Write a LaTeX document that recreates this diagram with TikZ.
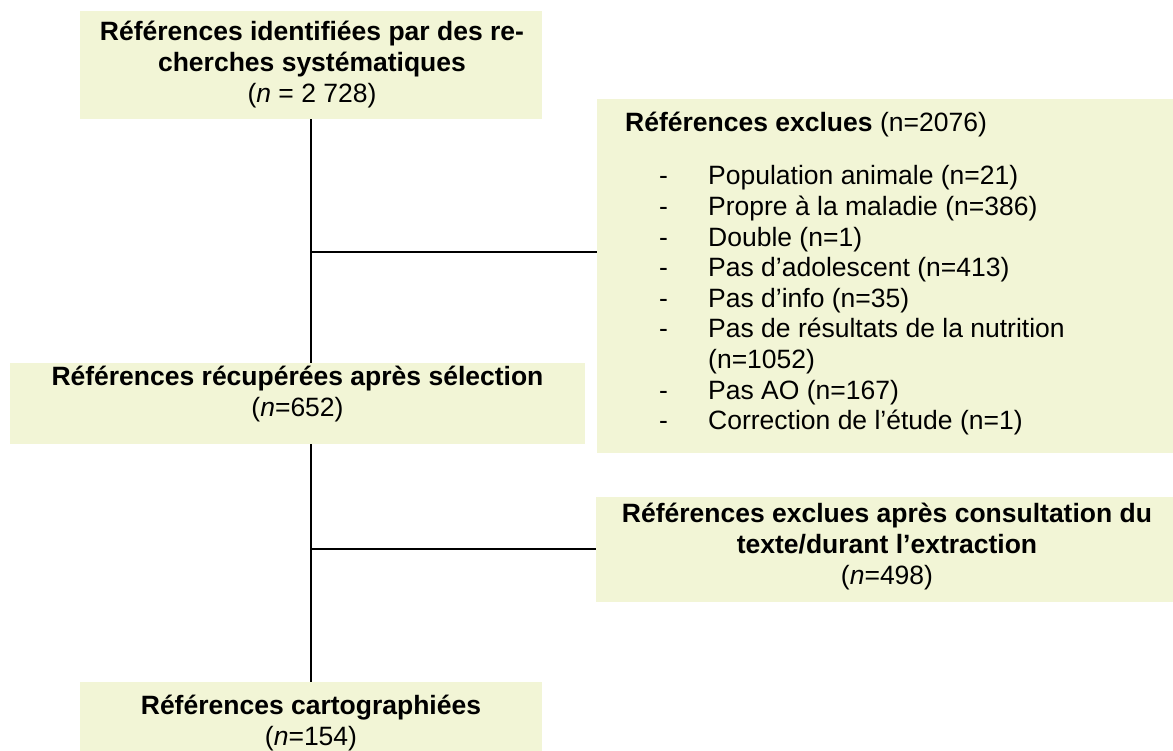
\documentclass[tikz,border=0pt]{standalone}
\usepackage{fontspec}
\setmainfont{Liberation Sans}
\definecolor{boxfill}{HTML}{F2F5D6}
\newcommand{\itm}[1]{\hspace*{34pt}\makebox[49pt][l]{-}#1}
\begin{document}
\begin{tikzpicture}[x=1pt,y=-1pt,
  box/.style={fill=boxfill, draw=none, inner sep=0pt, outer sep=0pt},
  txt/.style={font=\fontsize{26.5}{31}\selectfont, align=center, anchor=base, inner sep=0pt},
  conn/.style={line width=1.8pt, black}]
\useasboundingbox (0,0) rectangle (1173,750);
\clip (0,0) rectangle (1173,750);
% boxes
\node[box, minimum width=462, minimum height=108] (b1) at (311,65) {};
\node[box, minimum width=576, minimum height=354] (ex) at (885,276) {};
\node[box, minimum width=575, minimum height=81] (b2) at (297.5,403.5) {};
\node[box, minimum width=577, minimum height=105] (b3) at (884.5,549.5) {};
\node[box, minimum width=462, minimum height=100] (b4) at (311,732) {};
% texts (anchor base = baseline of the last line)
\node[txt] (t1) at (312,102) {\textbf{Références identifiées par des re-}\\\textbf{cherches systématiques}\\(\textit{n} = 2 728)};
\node[txt, font=\fontsize{26.5}{30.6}\selectfont, align=left, anchor=base west] (tex) at (625,429.6) {\textbf{Références exclues} (n=2076)\\[22.3pt]
\itm{Population animale (n=21)}\\
\itm{Propre à la maladie (n=386)}\\
\itm{Double (n=1)}\\
\itm{Pas d’adolescent (n=413)}\\
\itm{Pas d’info (n=35)}\\
\itm{Pas de résultats de la nutrition}\\
\hspace*{83pt}(n=1052)\\
\itm{Pas AO (n=167)}\\
\itm{Correction de l’étude (n=1)}};
\node[txt] (t2) at (297.5,416) {\textbf{Références récupérées après sélection}\\(\textit{n}=652)};
\node[txt] (t3) at (887,584) {\textbf{Références exclues après consultation du}\\\textbf{texte/durant l’extraction}\\(\textit{n}=498)};
\node[txt] (t4) at (311,745) {\textbf{Références cartographiées}\\(\textit{n}=154)};
% connectors
\coordinate (j1) at (311,252);
\coordinate (j2) at (311,549);
\draw[conn] (b1.south) -- (b1.south |- b2.north);
\draw[conn] (b1.south |- b2.south) -- (b4.north);
\draw[conn] (j1) -- (j1 -| ex.west);
\draw[conn] (j2) -- (j2 -| b3.west);
\end{tikzpicture}
\end{document}
